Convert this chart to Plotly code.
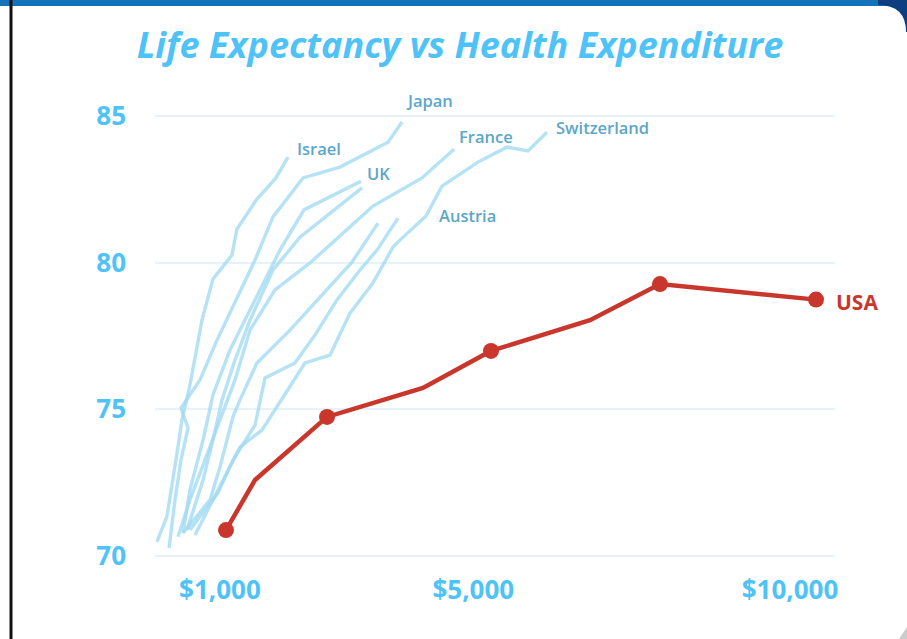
import plotly.graph_objects as go

# ---------------- data (health spending per capita, life expectancy) ----------------
israel_x = [5, 163, 305, 400, 526, 637, 716, 889, 1189, 1268, 1584, 1884, 2074]
israel_y = [70.48, 71.36, 73.27, 74.64, 75.83, 77.19, 78.04, 79.44, 80.26, 81.15, 82.17, 82.89, 83.60]

japan_x = [195, 290, 384, 495, 384, 684, 953, 1253, 1553, 1837, 2311, 2895, 3653, 3874]
japan_y = [70.27, 71.91, 73.27, 74.36, 75.04, 76.00, 77.36, 78.73, 80.09, 81.56, 82.89, 83.26, 84.11, 84.80]

uk_x = [416, 526, 732, 889, 1158, 1553, 1947, 2326, 3226]
uk_y = [70.78, 72.25, 73.95, 75.49, 77.02, 78.73, 80.43, 81.80, 82.78]

uk2_x = [479, 732, 889, 1032, 1237, 1474, 1837, 2263, 3242]
uk2_y = [70.88, 72.59, 73.95, 75.32, 76.68, 78.04, 79.75, 80.87, 82.55]

france_x = [337, 526, 763, 1000, 1237, 1474, 1868, 2421, 3416, 4190, 4695]
france_y = [70.65, 71.91, 73.27, 74.64, 76.00, 77.70, 79.07, 79.99, 81.93, 82.89, 83.87]

other_x = [416, 842, 1000, 1205, 1316, 1584, 2105, 2532, 3084, 3495]
other_y = [70.78, 71.91, 73.03, 74.74, 75.32, 76.58, 77.70, 78.73, 80.02, 81.35]

austria_x = [526, 968, 1205, 1553, 1711, 2184, 2500, 2847, 3211, 3479, 3811]
austria_y = [70.88, 72.15, 73.27, 74.46, 76.07, 76.58, 77.53, 78.73, 79.75, 80.43, 81.52]

swiss_x = [605, 953, 1316, 1663, 1995, 2342, 2737, 3053, 3211, 3416, 3732, 3842, 4253, 4505, 5074, 5532, 5863, 6163]
swiss_y = [70.71, 72.15, 73.71, 74.29, 75.42, 76.58, 76.85, 78.28, 78.73, 79.31, 80.53, 80.77, 81.59, 82.61, 83.43, 83.94, 83.81, 84.45]

usa_x = [1095, 1553, 2690, 4205, 5279, 6842, 7948, 10411]
usa_y = [70.88, 72.59, 74.74, 75.73, 76.99, 78.04, 79.27, 78.74]
usa_dot = [True, False, True, False, True, False, True, True]

x_tickvals = [1000, 5000, 10000]
x_ticktext = ["$1,000", "$5,000", "$10,000"]
y_tickvals = [70, 75, 80, 85]

# (name, x, y, label, xshift, yshift)
others = [
    ("Israel", israel_x, israel_y, "Israel", 7, 9),
    ("Japan", japan_x, japan_y, "Japan", 2, 21),
    ("UK", uk_x, uk_y, "UK", 4, 8),
    ("UK2", uk2_x, uk2_y, None, 0, 0),
    ("France", france_x, france_y, "France", 3, 13),
    ("Other", other_x, other_y, None, 0, 0),
    ("Austria", austria_x, austria_y, "Austria", 39, 3),
    ("Switzerland", swiss_x, swiss_y, "Switzerland", 7, 5),
]

FONT = "Open Sans"
SKY = "#4fc3f7"
LINE = "rgba(160, 218, 242, 0.78)"
LABEL = "#5ba7c9"
RED = "#c9372c"

fig = go.Figure()
annotations = []
for name, xs, ys, lab, dx, dy in others:
    fig.add_trace(go.Scatter(x=xs, y=ys, mode="lines", name=name,
                             line=dict(color=LINE, width=3.4), hoverinfo="skip",
                             showlegend=False))
    if lab:
        annotations.append(dict(x=xs[-1], y=ys[-1], xref="x", yref="y", text=lab,
                                showarrow=False, xanchor="left", yanchor="middle",
                                xshift=dx, yshift=dy,
                                font=dict(family=FONT, size=16.5, color=LABEL, weight=600)))

fig.add_trace(go.Scatter(x=usa_x, y=usa_y, mode="lines+markers", name="USA",
                         line=dict(color=RED, width=4.5),
                         marker=dict(color=RED, opacity=1, line=dict(width=0),
                                     size=[16 if d else 0 for d in usa_dot]),
                         showlegend=False, cliponaxis=False))
annotations.append(dict(x=usa_x[-1], y=usa_y[-1], xref="x", yref="y", text="USA",
                        showarrow=False, xanchor="left", yanchor="middle",
                        xshift=18, yshift=-2,
                        font=dict(family=FONT, size=21, color=RED, weight=700)))

# ---- frame decorations (in paper coordinates) ----
L, R, T, B = 155, 72, 80, 79
W, H = 907, 639
pw, ph = W - L - R, H - T - B
def px(v):
    return (v - L) / pw
def py(v):
    return (H - B - v) / ph

shapes = [
    dict(type="rect", xref="paper", yref="paper", x0=px(0), x1=px(W), y0=py(6), y1=py(0),
         fillcolor="#1473b8", line=dict(width=0), layer="above"),
    dict(type="path", xref="paper", yref="paper",
         path=f"M {px(878)},{py(5)} Q {px(906)},{py(5)} {px(906)},{py(32)} L {px(907)},{py(32)} L {px(907)},{py(0)} L {px(878)},{py(0)} Z",
         fillcolor="#0d3f80", line=dict(width=0), layer="above"),
    dict(type="line", xref="paper", yref="paper", x0=px(11), x1=px(11), y0=py(0), y1=py(H),
         line=dict(color="#111111", width=3), layer="above"),
    dict(type="path", xref="paper", yref="paper",
         path=f"M {px(899)},{py(639)} L {px(907)},{py(627)} L {px(907)},{py(639)} Z",
         fillcolor="#cccccc", line=dict(width=0), layer="above"),
]

fig.update_layout(
    width=W, height=H,
    margin=dict(l=L, r=R, t=T, b=B),
    paper_bgcolor="white", plot_bgcolor="white",
    hovermode=False,
    title=dict(text="<i>Life Expectancy vs Health Expenditure</i>",
               x=460 / W, xref="container", xanchor="center",
               y=1 - 45 / H, yref="container", yanchor="middle",
               font=dict(family=FONT, size=36, color=SKY, weight=700)),
    xaxis=dict(range=[-26, 10711], tickvals=x_tickvals, ticktext=x_ticktext,
               showgrid=False, zeroline=False, showline=False, ticks="",
               tickfont=dict(family=FONT, size=26, color=SKY, weight=700),
               ticklabelstandoff=12),
    yaxis=dict(range=[69.86, 86.23], tickvals=y_tickvals,
               showgrid=True, gridcolor="#e6f3fb", gridwidth=2,
               zeroline=False, showline=False, ticks="",
               tickfont=dict(family=FONT, size=26, color=SKY, weight=700),
               ticklabelstandoff=28),
    annotations=annotations,
    shapes=shapes,
)

fig.write_html("out.html", config={"displayModeBar": False},
               post_script="document.body.style.margin='0';")
